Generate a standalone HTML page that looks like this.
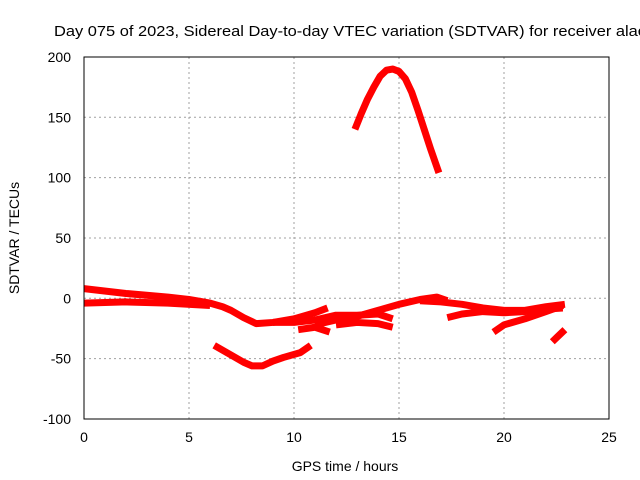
<!DOCTYPE html>
<html><head><meta charset="utf-8"><style>
body{margin:0;background:#fff;overflow:hidden;}
svg{display:block;font-family:"Liberation Sans",sans-serif;}
</style></head><body>
<svg id="chart" width="640" height="480">
<text x="54" y="36" font-size="15" textLength="592" lengthAdjust="spacingAndGlyphs">Day 075 of 2023, Sidereal Day-to-day VTEC variation (SDTVAR) for receiver alac</text>
<g id="grid"></g>
<g id="series"></g>
<rect x="84" y="57" width="525" height="362" fill="none" stroke="#000" stroke-width="1"/>
<g id="ticks"></g>
<text x="345" y="471" font-size="14" text-anchor="middle">GPS time / hours</text>
<text transform="translate(19,238) rotate(-90)" font-size="14" text-anchor="middle">SDTVAR / TECUs</text>
</svg>
<script>
const xTicks=[0,5,10,15,20,25];
const yTicks=[-100,-50,0,50,100,150,200];
const arcTop=[[12.9,140],[13.2,153],[13.5,165],[13.8,175],[14.1,184],[14.4,189],[14.7,190],[15,188],[15.3,182],[15.6,171],[15.9,156],[16.2,140],[16.5,124],[16.9,104]];
const bandUpper=[[0,8],[2,4],[4,1],[5,-1],[6,-4],[6.6,-7],[7,-10],[7.6,-16],[8.2,-21],[9,-20],[10,-17],[11,-12],[11.6,-8]];
const bandLower=[[0,-4],[2,-3],[4,-4],[6,-6]];
const arcLow=[[6.2,-39],[7,-47],[7.6,-53],[8,-56],[8.5,-56],[9,-52],[9.5,-49],[10.3,-45],[10.8,-39]];
const segA=[[10.2,-26],[11,-24],[11.7,-28]];
const segB=[[9,-20],[10,-20],[11,-18],[12,-14],[13,-14],[14,-13],[14.7,-17]];
const segC=[[11,-22],[12,-18],[13,-15],[14,-10],[15,-5],[16,-1],[16.8,1],[17.3,-2]];
const segD=[[12,-22],[13,-20],[14,-21],[14.7,-24]];
const segE=[[16,-2],[17,-3],[18,-5],[19,-8],[20,-10],[21,-10],[22,-7],[22.9,-5]];
const segF=[[17.3,-16],[18,-13],[19,-11],[20,-12],[21,-11],[22,-9],[22.8,-8]];
const segG=[[19.5,-28],[20,-22],[21,-17],[22,-11],[22.8,-6]];
const segH=[[22.3,-36],[22.6,-31],[22.9,-26]];
const allSeries=[arcTop,bandUpper,bandLower,arcLow,segA,segB,segC,segD,segE,segF,segG,segH];
const NS="http://www.w3.org/2000/svg";
const xs=h=>84+h*21;
const ys=v=>298.3-v*362/300;
const grid=document.getElementById('grid'),ticks=document.getElementById('ticks'),ser=document.getElementById('series');
function mk(tag,attrs,parent){const e=document.createElementNS(NS,tag);for(const k in attrs)e.setAttribute(k,attrs[k]);parent.appendChild(e);return e;}
xTicks.forEach(t=>{
 const x=xs(t);
 if(t>0&&t<25){const g=mk('line',{x1:x,x2:x,y1:57,y2:419,stroke:'#a0a0a0','stroke-dasharray':'2,3'},grid);
 
 }
 const l=mk('text',{x:x,y:442,'font-size':14,'text-anchor':'middle'},ticks);l.textContent=t;
 
 
});
yTicks.forEach(t=>{
 const y=ys(t);
 if(t>-100&&t<200){const g=mk('line',{x1:84,x2:609,y1:y,y2:y,stroke:'#a0a0a0','stroke-dasharray':'2,3'},grid);
 
 }
 const l=mk('text',{x:71,y:y+5,'font-size':14,'text-anchor':'end'},ticks);l.textContent=t;
 
 
});
allSeries.forEach(s=>{
 const p=mk('polyline',{points:s.map(d=>xs(d[0])+','+ys(d[1])).join(' '),fill:'none',stroke:'#ff0000','stroke-width':7,'stroke-linejoin':'round','stroke-linecap':'butt'},ser);
 
 
});
</script>
</body></html>
